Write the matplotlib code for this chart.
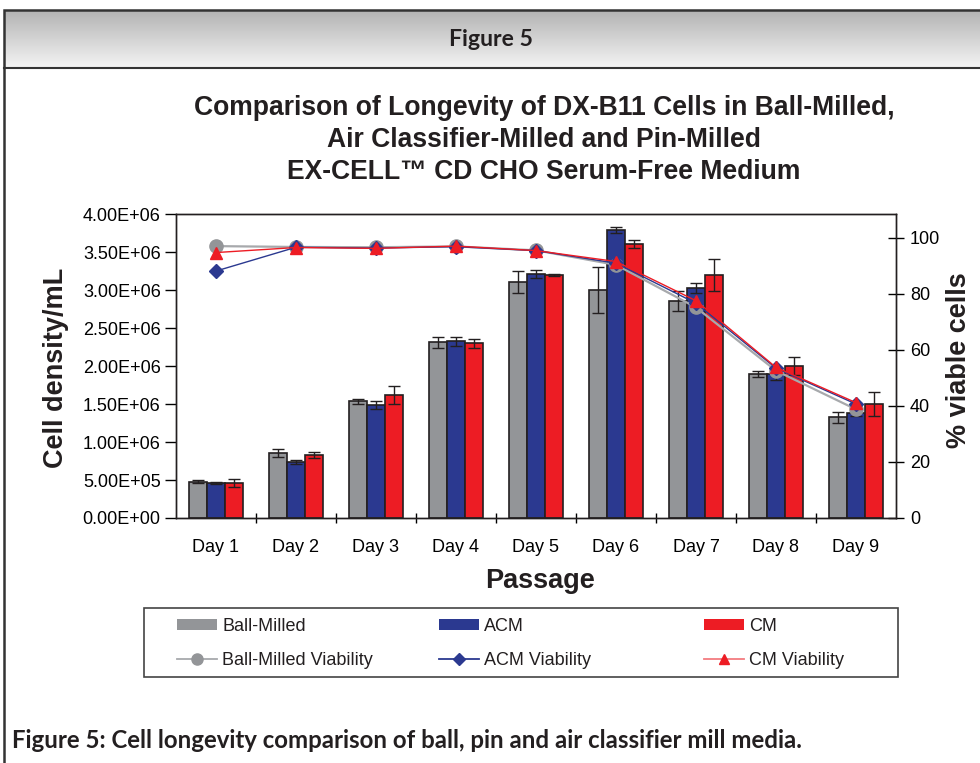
import numpy as np
import matplotlib
matplotlib.use("Agg")
import matplotlib.pyplot as plt
from matplotlib.patches import Rectangle, Patch
from matplotlib.lines import Line2D
from matplotlib.ticker import FuncFormatter, FixedLocator

# === DATA ===
days = ["Day 1", "Day 2", "Day 3", "Day 4", "Day 5", "Day 6", "Day 7", "Day 8", "Day 9"]

ball_density = [4.74e5, 8.55e5, 1.534e6, 2.311e6, 3.105e6, 3.00e6, 2.859e6, 1.895e6, 1.324e6]
ball_err     = [2.0e4, 4.8e4, 3.7e4, 7.7e4, 1.45e5, 3.07e5, 1.3e5, 3.7e4, 7.7e4]
acm_density  = [4.60e5, 7.37e5, 1.487e6, 2.324e6, 3.21e6, 3.79e6, 3.026e6, 1.895e6, 1.38e6]
acm_err      = [1.2e4, 2.4e4, 5.7e4, 5.9e4, 4.8e4, 3.7e4, 6.4e4, 8.0e4, 3.7e4]
cm_density   = [4.60e5, 8.29e5, 1.618e6, 2.297e6, 3.197e6, 3.605e6, 3.197e6, 2.00e6, 1.50e6]
cm_err       = [4.8e4, 3.3e4, 1.18e5, 5.7e4, 1.5e4, 4.8e4, 2.1e5, 1.18e5, 1.6e5]

ball_viab = [97.1, 96.8, 96.7, 97.0, 95.6, 90.4, 75.2, 52.6, 38.8]
acm_viab  = [88.2, 96.7, 96.4, 96.9, 95.5, 91.0, 76.7, 53.5, 40.7]
cm_viab   = [94.8, 96.6, 96.3, 97.1, 95.5, 91.6, 77.6, 53.8, 41.2]

GRAY = "#939598"
BLUE = "#2b3990"
RED = "#ed1c24"
EDGE = "#231f20"

W, H = 980, 763
fig = plt.figure(figsize=(W / 100, H / 100), dpi=100)

def fx(px):
    return px / W

def fy(py):
    return 1 - py / H

# === FRAME + HEADER ===
hdr = fig.add_axes([fx(4), fy(68), 1 - fx(4), fy(10) - fy(68)])
grad = np.linspace(0, 1, 100).reshape(-1, 1)
hdr.imshow(grad, aspect="auto", cmap=matplotlib.colors.LinearSegmentedColormap.from_list(
    "g", ["#b3b3b3", "#f4f4f4"]), extent=[0, 1, 1, 0])
hdr.set_axis_off()
fig.add_artist(Rectangle((fx(4), -0.01), 1.05, fy(10) + 0.01, transform=fig.transFigure,
                         fill=False, edgecolor="#333333", linewidth=1.8))
fig.add_artist(Line2D([fx(4), 1], [fy(68), fy(68)], transform=fig.transFigure,
                      color="#333333", linewidth=1.5))
fig.text(fx(491), fy(40), "Figure 5", ha="center", va="center", family="Lato",
         fontweight="bold", fontsize=16.6, color="#231f20")
fig.text(fx(12), fy(741), "Figure 5: Cell longevity comparison of ball, pin and air classifier mill media.",
         ha="left", va="center", family="Lato", fontweight="bold", fontsize=17.3, color="#231f20")

# === CHART ===
plt.rcParams["font.family"] = ["Liberation Sans", "DejaVu Sans"]
ax = fig.add_axes([fx(176), fy(518), fx(896) - fx(176), fy(214) - fy(518)])

x = np.arange(len(days))
bw = 0.225
eb = dict(ecolor=EDGE, elinewidth=1.0, capsize=4.5, capthick=1.0)
ax.bar(x - bw, ball_density, bw, yerr=ball_err, color=GRAY, edgecolor=EDGE, linewidth=1.2,
       error_kw=eb, zorder=2)
ax.bar(x, acm_density, bw, yerr=acm_err, color=BLUE, edgecolor=EDGE, linewidth=1.2,
       error_kw=eb, zorder=2)
ax.bar(x + bw, cm_density, bw, yerr=cm_err, color=RED, edgecolor=EDGE, linewidth=1.2,
       error_kw=eb, zorder=2)

ax.set_xlim(-0.5, len(days) - 0.5)
ax.set_ylim(0, 4.0e6)
ax.set_yticks(np.arange(0, 4.0e6 + 1, 0.5e6))
ax.yaxis.set_major_formatter(FuncFormatter(lambda v, p: f"{v:.2E}"))
ax.set_xticks(x)
ax.set_xticklabels(days)
ax.xaxis.set_minor_locator(FixedLocator(np.arange(0.5, len(days) - 1, 1)))
ax.tick_params(axis="x", which="major", length=0, labelsize=13, pad=15)
ax.tick_params(axis="x", which="minor", length=7, direction="inout", width=1)
ax.tick_params(axis="y", length=8, width=1, labelsize=13, pad=3, direction="out")
for s in ax.spines.values():
    s.set_color(EDGE)
    s.set_linewidth(1.0)

ax2 = ax.twinx()
ax2.plot(x, ball_viab, color="#a7a9ac", linewidth=1.6, marker="o", markersize=9.5,
         markerfacecolor=GRAY, markeredgecolor=GRAY)
ax2.plot(x, acm_viab, color=BLUE, linewidth=1.0, marker="D", markersize=7,
         markerfacecolor=BLUE, markeredgecolor=BLUE)
ax2.plot(x, cm_viab, color=RED, linewidth=1.0, marker="^", markersize=8,
         markerfacecolor=RED, markeredgecolor=RED)
ax2.set_ylim(0, 108.57)
ax2.set_yticks([0, 20, 40, 60, 80, 100])
ax2.tick_params(axis="y", length=12, width=1, labelsize=13, pad=4, direction="inout")
for s in ax2.spines.values():
    s.set_color(EDGE)
    s.set_linewidth(1.0)

# === LABELS ===
tkw = dict(ha="center", va="center", fontweight="bold", fontsize=19.1, color="#231f20")
fig.text(fx(544), fy(108), "Comparison of Longevity of DX-B11 Cells in Ball-Milled,", **tkw)
fig.text(fx(544), fy(140), "Air Classifier-Milled and Pin-Milled", **tkw)
fig.text(fx(544), fy(172), "EX-CELL\u2122 CD CHO Serum-Free Medium", **tkw)
fig.text(fx(56), fy(368), "Cell density/mL", rotation=90, ha="center", va="center",
         fontweight="bold", fontsize=19.5, color="#231f20")
fig.text(fx(959), fy(360), "% viable cells", rotation=90, ha="center", va="center",
         fontweight="bold", fontsize=19.5, color="#231f20")
fig.text(fx(540), fy(581), "Passage", ha="center", va="center",
         fontweight="bold", fontsize=19.5, color="#231f20")

# === LEGEND ===
fig.add_artist(Rectangle((fx(144), fy(677)), fx(898) - fx(144), fy(608) - fy(677),
                         transform=fig.transFigure, fill=False, edgecolor="#444444", linewidth=1.2))
groups = [
    (177, GRAY, "#a7a9ac", "o", 8, "Ball-Milled"),
    (439, BLUE, BLUE, "D", 6.5, "ACM"),
    (704, RED, "#f37c80", "^", 7, "CM"),
]
for xpos, col, lcol, mk, ms, name in groups:
    handles = [Patch(facecolor=col, edgecolor="none"),
               Line2D([], [], color=lcol, linewidth=1.3, marker=mk, markersize=ms,
                      markerfacecolor=col, markeredgecolor=col)]
    leg = fig.legend(handles, [name, name + " Viability"], loc="upper left",
                     bbox_to_anchor=(fx(xpos), fy(618)), frameon=False, fontsize=13,
                     handlelength=2.2, handleheight=0.55, handletextpad=0.3,
                     labelspacing=0.92, borderpad=0, borderaxespad=0)
    for t in leg.get_texts():
        t.set_color("#231f20")

fig.savefig("out.png", dpi=100)
